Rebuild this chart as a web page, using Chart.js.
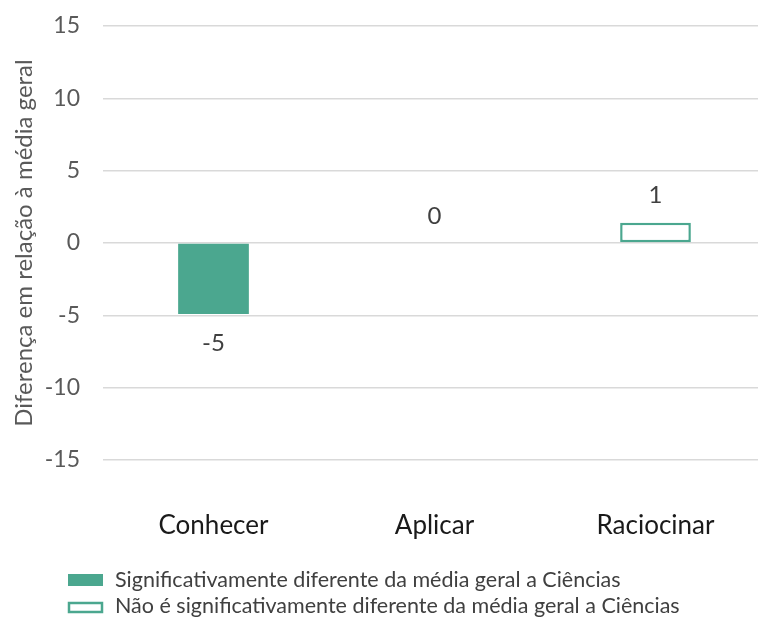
<!DOCTYPE html>
<html>
<head>
<meta charset="utf-8">
<script src="https://cdn.jsdelivr.net/npm/chart.js@4"></script>
<style>
  html, body { margin: 0; padding: 0; background: #fff; overflow: hidden; }
  #wrap { width: 768px; height: 617px; }
</style>
</head>
<body>
<div id="wrap"><canvas id="chart" width="768" height="617"></canvas></div>
<script>
const categories = ['Conhecer', 'Aplicar', 'Raciocinar'];
const significant = [-4.9, null, null];
const notSignificant = [null, 0, 1.4];
const valueLabels = ['-5', '0', '1'];
const yTicks = [-15, -10, -5, 0, 5, 10, 15];

const teal = '#4ba78f';
const font = 'Lato, "Noto Sans", sans-serif';

// value labels above / below each bar
const valueLabelPlugin = {
    id: 'valueLabels',
    afterDatasetsDraw(chart) {
        const ctx = chart.ctx;
        const x = chart.scales.x;
        const y = chart.scales.y;
        ctx.save();
        ctx.font = '24px ' + font;
        ctx.fillStyle = '#404040';
        ctx.textAlign = 'center';
        ctx.textBaseline = 'middle';
        categories.forEach((c, i) => {
            const v = significant[i] !== null ? significant[i] : notSignificant[i];
            const px = x.getPixelForValue(i);
            const py = v < 0 ? y.getPixelForValue(v) + 29 : y.getPixelForValue(v) - 27;
            ctx.fillText(valueLabels[i], px, py);
        });
        ctx.restore();
    }
};

// legend drawn at the bottom left
const legendPlugin = {
    id: 'bottomLegend',
    afterDraw(chart) {
        const ctx = chart.ctx;
        ctx.save();
        ctx.font = '21.5px ' + font;
        ctx.textBaseline = 'middle';
        ctx.fillStyle = teal;
        ctx.fillRect(68, 574, 35, 12);
        ctx.strokeStyle = teal;
        ctx.lineWidth = 2.5;
        ctx.strokeRect(69, 603, 33, 9);
        ctx.fillStyle = '#404040';
        chart.data.datasets.forEach((ds, i) => {
            ctx.fillText(ds.label, 115, 580 + i * 26);
        });
        ctx.restore();
    }
};

new Chart(document.getElementById('chart'), {
    type: 'bar',
    data: {
        labels: categories,
        datasets: [{
            label: 'Significativamente diferente da média geral a Ciências',
            data: significant,
            backgroundColor: teal,
            borderWidth: 0
        }, {
            label: 'Não é significativamente diferente da média geral a Ciências',
            data: notSignificant,
            backgroundColor: '#ffffff',
            borderColor: teal,
            borderWidth: 2.5,
            borderSkipped: false
        }]
    },
    options: {
        responsive: false,
        animation: false,
        categoryPercentage: 1,
        barPercentage: 0.32,
        layout: { padding: { top: 26, bottom: 77, left: 10, right: 2 } },
        scales: {
            x: {
                stacked: true,
                grid: { display: false },
                border: { display: false },
                ticks: { color: '#1a1a1a', font: { size: 26, family: font }, padding: 42, maxRotation: 0 },
                afterFit(axis) { axis.height = 80; }
            },
            y: {
                min: -15,
                max: 15,
                afterBuildTicks(axis) { axis.ticks = yTicks.map(v => ({ value: v })); },
                grid: { color: '#d9d9d9', lineWidth: 1.5, drawTicks: false },
                border: { display: false },
                ticks: { color: '#595959', font: { size: 23, family: font }, padding: 23 },
                title: {
                    display: true,
                    text: 'Diferença em relação à média geral',
                    color: '#595959',
                    font: { size: 24, family: font },
                    padding: { top: 0, bottom: 4 }
                },
                afterFit(axis) {
                    axis.width = 93;
                    axis.paddingTop = 0;
                    axis.paddingBottom = 0;
                }
            }
        },
        plugins: {
            legend: { display: false },
            tooltip: { enabled: false }
        }
    },
    plugins: [valueLabelPlugin, legendPlugin]
});
</script>
</body>
</html>
